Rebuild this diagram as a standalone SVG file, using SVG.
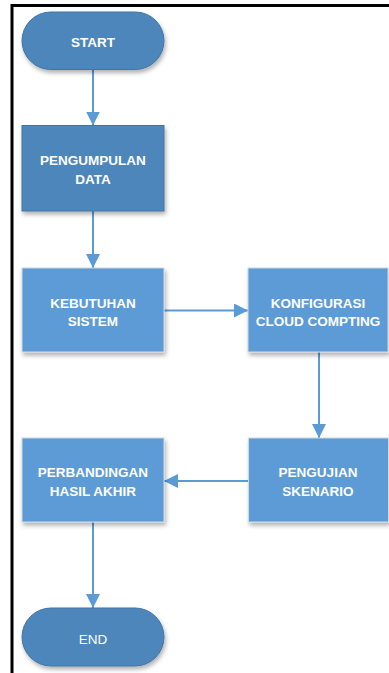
<svg xmlns="http://www.w3.org/2000/svg" width="389" height="673" viewBox="0 0 389 673">
  <defs>
    <filter id="shadow" x="-10%" y="-10%" width="130%" height="140%">
      <feDropShadow dx="1.5" dy="3" stdDeviation="2" flood-color="#000" flood-opacity="0.3"/>
    </filter>
    <marker id="arrow" markerUnits="userSpaceOnUse" markerWidth="14" markerHeight="14" refX="14" refY="7" orient="auto">
      <path d="M0,0 L14,7 L0,14 Z" fill="#5b9bd5"/>
    </marker>
  </defs>
  <style>
    .dark { fill: #4e86bb; stroke: #4174a3; stroke-width: 1; filter: url(#shadow); }
    .light { fill: #5b9bd5; stroke: #cfd8e2; stroke-width: 1; filter: url(#shadow); }
    .label { font-family: "Liberation Sans", Arial, sans-serif; font-size: 13.5px; font-weight: bold; fill: #ffffff; text-anchor: middle; }
    .plain { font-weight: normal; }
    .conn line { stroke: #5b9bd5; stroke-width: 2; marker-end: url(#arrow); }
    .frame { stroke: #000; stroke-width: 3; fill: none; }
  </style>

  <rect width="389" height="673" fill="#ffffff"/>

  <!-- page frame (top and left edges) -->
  <path class="frame" d="M12,673 L12,5.5 L389,5.5"/>

  <!-- connectors -->
  <g id="connectors" class="conn">
    <line x1="93" y1="70" x2="93" y2="125.5"/>
    <line x1="93" y1="211" x2="93" y2="268"/>
    <line x1="164" y1="310.5" x2="248" y2="310.5"/>
    <line x1="319" y1="352" x2="319" y2="438"/>
    <line x1="248" y1="481" x2="164" y2="481"/>
    <line x1="93" y1="522" x2="93" y2="608"/>
  </g>

  <g id="start">
    <rect class="dark" x="22" y="12" width="142" height="57.5" rx="28.75" ry="28.75"/>
    <text class="label" x="93" y="46.5">START</text>
  </g>

  <g id="pengumpulan-data">
    <rect class="dark" x="22" y="125.5" width="142" height="85.5"/>
    <text class="label" x="93" y="164.5">PENGUMPULAN</text>
    <text class="label" x="93" y="183.5">DATA</text>
  </g>

  <g id="kebutuhan-sistem">
    <rect class="light" x="22" y="268" width="142" height="84"/>
    <text class="label" x="93" y="307.5">KEBUTUHAN</text>
    <text class="label" x="93" y="326">SISTEM</text>
  </g>

  <g id="konfigurasi">
    <rect class="light" x="248" y="268" width="140" height="84"/>
    <text class="label" x="318" y="307.5">KONFIGURASI</text>
    <text class="label" x="318" y="326">CLOUD COMPTING</text>
  </g>

  <g id="pengujian-skenario">
    <rect class="light" x="248.5" y="438" width="140" height="84"/>
    <text class="label" x="318" y="477">PENGUJIAN</text>
    <text class="label" x="318" y="496">SKENARIO</text>
  </g>

  <g id="perbandingan">
    <rect class="light" x="22" y="438" width="142" height="84"/>
    <text class="label" x="93" y="477">PERBANDINGAN</text>
    <text class="label" x="93" y="496">HASIL AKHIR</text>
  </g>

  <g id="end">
    <rect class="dark" x="22" y="608" width="142" height="58" rx="29" ry="29"/>
    <text class="label plain" x="93" y="643.5">END</text>
  </g>
</svg>
